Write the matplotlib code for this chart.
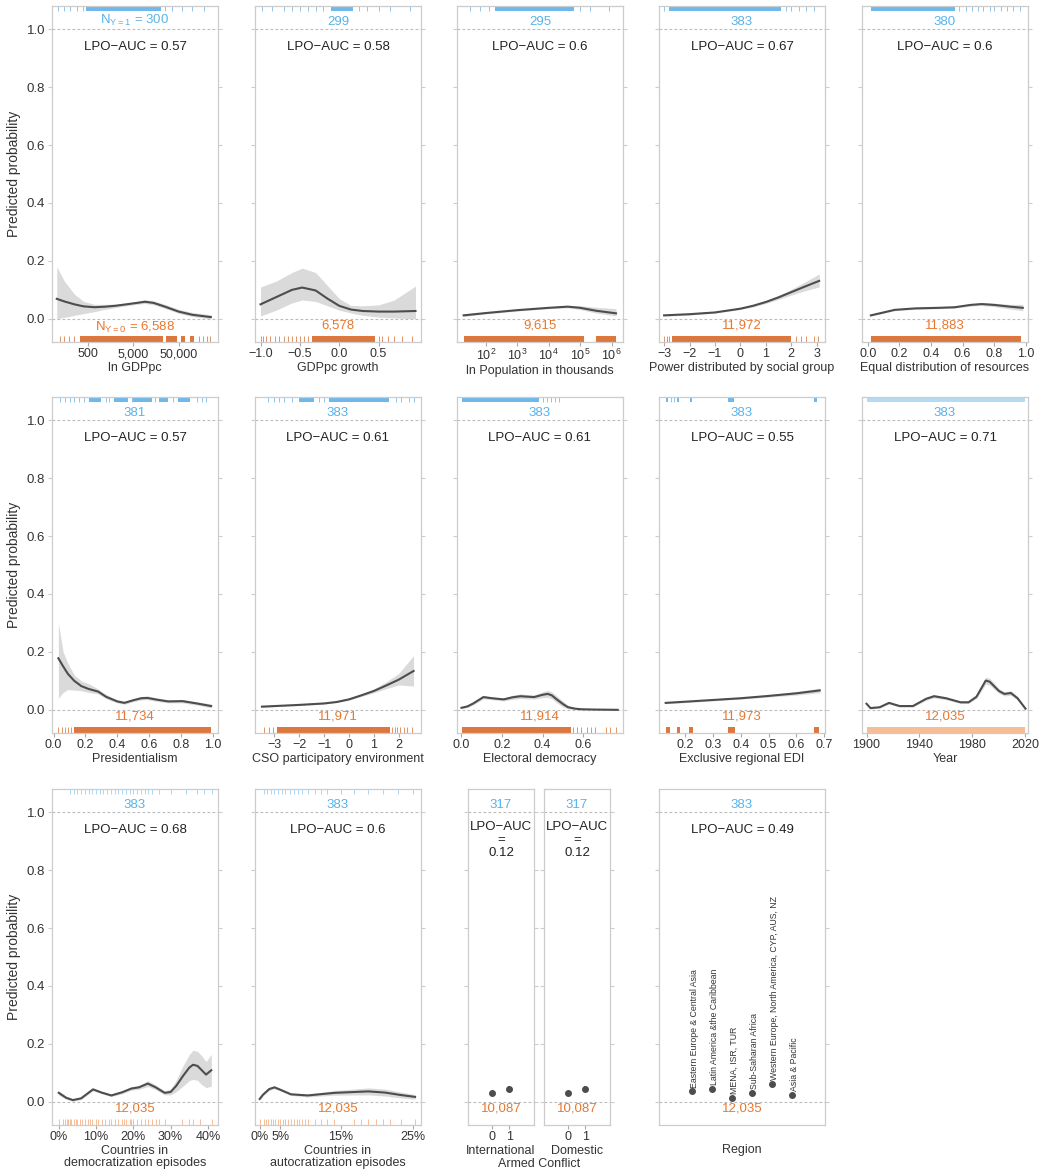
import numpy as np
import matplotlib
matplotlib.use('Agg')
import matplotlib.pyplot as plt
import matplotlib.transforms as mtrans

plt.rcParams['font.family'] = ['Liberation Sans', 'DejaVu Sans']

# ---------------- data ----------------
# row 1
gdp_x = [102, 150, 250, 400, 700, 1200, 2000, 3500, 6000, 9000, 14000, 25000, 50000, 100000, 257000]
gdp_y = [0.069, 0.060, 0.050, 0.043, 0.040, 0.042, 0.045, 0.050, 0.055, 0.059, 0.055, 0.042, 0.025, 0.014, 0.006]
gdp_lo = [0.0, 0.005, 0.012, 0.018, 0.025, 0.033, 0.039, 0.045, 0.050, 0.053, 0.049, 0.036, 0.019, 0.008, 0.0]
gdp_hi = [0.180, 0.130, 0.085, 0.060, 0.050, 0.050, 0.051, 0.055, 0.060, 0.066, 0.062, 0.050, 0.033, 0.022, 0.014]
gdp_rug1_span = [(450, 20000)]
gdp_rug1_ticks = [110, 150, 200, 280, 380, 25000, 35000, 60000, 100000, 180000]
gdp_rug0_span = [(330, 23000), (26000, 45000), (55000, 70000), (90000, 110000)]
gdp_rug0_ticks = [120, 150, 190, 240, 140000, 170000, 210000, 250000]

gro_x = [-1.0, -0.8, -0.6, -0.47, -0.3, -0.15, 0.0, 0.15, 0.3, 0.5, 0.7, 0.97]
gro_y = [0.050, 0.075, 0.100, 0.108, 0.098, 0.070, 0.045, 0.032, 0.027, 0.025, 0.025, 0.027]
gro_lo = [0.010, 0.030, 0.055, 0.065, 0.060, 0.045, 0.030, 0.020, 0.012, 0.006, 0.003, 0.0]
gro_hi = [0.110, 0.130, 0.160, 0.175, 0.160, 0.115, 0.070, 0.046, 0.045, 0.048, 0.065, 0.113]
gro_rug1_span = [(-0.1, 0.18)]
gro_rug1_ticks = [-0.98, -0.85, -0.7, -0.6, -0.5, -0.4, -0.3, -0.2, 0.25, 0.35, 0.5, 0.65, 0.9]
gro_rug0_span = [(-0.35, 0.45)]
gro_rug0_ticks = [-1.0, -0.97, -0.93, -0.88, -0.82, -0.77, -0.7, -0.65, -0.6, -0.55, -0.5,
                  -0.45, -0.4, 0.5, 0.55, 0.62, 0.7, 0.8, 0.92]

pop_x = [19.5, 100, 1000, 10000, 40000, 100000, 316000, 1380000]
pop_y = [0.012, 0.020, 0.030, 0.038, 0.042, 0.038, 0.028, 0.019]
pop_lo = [0.008, 0.017, 0.027, 0.035, 0.038, 0.032, 0.020, 0.010]
pop_hi = [0.016, 0.023, 0.033, 0.041, 0.046, 0.045, 0.040, 0.035]
pop_rug1_span = [(200, 63000)]
pop_rug1_ticks = [32, 63, 126, 100000, 200000, 800000]
pop_rug0_span = [(19.5, 132000), (316000, 1380000)]
pop_rug0_ticks = []

pow_x = [-3, -2, -1, 0, 0.5, 1, 1.5, 2, 2.5, 3.1]
pow_y = [0.012, 0.016, 0.022, 0.035, 0.045, 0.058, 0.074, 0.092, 0.110, 0.131]
pow_lo = [0.009, 0.013, 0.020, 0.032, 0.041, 0.053, 0.067, 0.082, 0.096, 0.110]
pow_hi = [0.015, 0.019, 0.025, 0.038, 0.049, 0.063, 0.081, 0.102, 0.125, 0.155]
pow_rug1_span = [(-2.8, 1.6)]
pow_rug1_ticks = [-3.0, 1.8, 2.0, 2.3, 2.6, 2.9]
pow_rug0_span = [(-2.7, 2.0)]
pow_rug0_ticks = [-3.0, -2.9, -2.8, 2.2, 2.4, 2.6, 2.9, 3.05]

equ_x = [0.02, 0.1, 0.17, 0.3, 0.45, 0.55, 0.65, 0.72, 0.8, 0.9, 0.98]
equ_y = [0.012, 0.022, 0.031, 0.036, 0.038, 0.040, 0.048, 0.051, 0.048, 0.042, 0.038]
equ_lo = [0.009, 0.019, 0.028, 0.033, 0.035, 0.037, 0.044, 0.046, 0.042, 0.034, 0.028]
equ_hi = [0.015, 0.025, 0.034, 0.039, 0.041, 0.043, 0.052, 0.056, 0.054, 0.050, 0.050]
equ_rug1_span = [(0.02, 0.55)]
equ_rug1_ticks = [0.58, 0.62, 0.66, 0.7, 0.73, 0.77, 0.8, 0.84, 0.88, 0.92, 0.96]
equ_rug0_span = [(0.02, 0.97)]
equ_rug0_ticks = []

# row 2
pre_x = [0.03, 0.06, 0.09, 0.13, 0.174, 0.22, 0.28, 0.33, 0.4, 0.445, 0.5, 0.55, 0.59, 0.65, 0.72, 0.81, 0.9, 0.99]
pre_y = [0.178, 0.150, 0.124, 0.100, 0.082, 0.072, 0.063, 0.045, 0.029, 0.024, 0.033, 0.040, 0.041,
         0.035, 0.029, 0.030, 0.022, 0.013]
pre_lo = [0.040, 0.060, 0.070, 0.068, 0.066, 0.060, 0.055, 0.038, 0.024, 0.019, 0.028, 0.034, 0.035,
          0.029, 0.024, 0.024, 0.016, 0.007]
pre_hi = [0.300, 0.200, 0.160, 0.120, 0.100, 0.090, 0.072, 0.053, 0.035, 0.030, 0.038, 0.046, 0.048,
          0.041, 0.035, 0.036, 0.028, 0.020]
pre_rug1_span = [(0.22, 0.30), (0.38, 0.47), (0.50, 0.62), (0.66, 0.72), (0.78, 0.86)]
pre_rug1_ticks = [0.04, 0.07, 0.10, 0.13, 0.16, 0.19, 0.33, 0.35, 0.49, 0.64, 0.75, 0.90, 0.93, 0.96]
pre_rug0_span = [(0.13, 0.99)]
pre_rug0_ticks = [0.03, 0.05, 0.07, 0.09, 0.11]

cso_x = [-3.5, -3, -2, -1, -0.5, 0, 0.5, 1, 1.5, 2, 2.6]
cso_y = [0.011, 0.013, 0.017, 0.022, 0.027, 0.036, 0.050, 0.065, 0.084, 0.104, 0.134]
cso_lo = [0.008, 0.011, 0.015, 0.020, 0.025, 0.033, 0.046, 0.059, 0.073, 0.086, 0.082]
cso_hi = [0.014, 0.015, 0.019, 0.024, 0.030, 0.040, 0.055, 0.072, 0.097, 0.125, 0.187]
cso_rug1_span = [(-2.0, -1.4), (-0.8, 1.6)]
cso_rug1_ticks = [-3.25, -3.0, -2.8, -2.6, -2.3, -1.2, -1.0, 1.9, 2.1, 2.4, 2.6]
cso_rug0_span = [(-2.9, 1.65)]
cso_rug0_ticks = [-3.4, -3.2, -3.05, 1.75, 1.85, 1.95, 2.05, 2.2, 2.35, 2.55]

ele_x = [0.0, 0.03, 0.058, 0.108, 0.15, 0.208, 0.25, 0.29, 0.358, 0.4, 0.425, 0.445, 0.466, 0.5,
         0.525, 0.56, 0.59, 0.65, 0.77]
ele_y = [0.007, 0.012, 0.022, 0.044, 0.040, 0.036, 0.043, 0.047, 0.044, 0.052, 0.055, 0.050, 0.038,
         0.020, 0.009, 0.004, 0.002, 0.001, 0.0]
ele_w = [0.003, 0.004, 0.005, 0.006, 0.005, 0.005, 0.007, 0.008, 0.007, 0.010, 0.012, 0.012, 0.012,
         0.010, 0.006, 0.003, 0.002, 0.001, 0.001]
ele_rug1_span = [(0.005, 0.38)]
ele_rug1_ticks = [0.40, 0.42, 0.44, 0.46, 0.48]
ele_rug0_span = [(0.005, 0.54)]
ele_rug0_ticks = [0.55, 0.57, 0.59, 0.62, 0.64, 0.66, 0.71, 0.73, 0.76]

edi_x = [0.13, 0.2, 0.3, 0.4, 0.5, 0.6, 0.684]
edi_y = [0.024, 0.028, 0.034, 0.040, 0.048, 0.057, 0.067]
edi_w = [0.003, 0.003, 0.003, 0.003, 0.004, 0.006, 0.008]
edi_rug1_span = [(0.13, 0.14), (0.172, 0.178), (0.218, 0.226), (0.355, 0.375), (0.665, 0.675)]
edi_rug1_ticks = [0.15, 0.16]
edi_rug0_span = [(0.13, 0.145), (0.172, 0.18), (0.215, 0.228), (0.355, 0.378), (0.662, 0.68)]
edi_rug0_ticks = []

yr_x = [1900, 1903, 1910, 1917, 1925, 1935, 1945, 1951, 1960, 1971, 1977, 1983, 1990, 1993, 2000,
        2004, 2009, 2014, 2020]
yr_y = [0.021, 0.006, 0.009, 0.024, 0.013, 0.013, 0.038, 0.047, 0.040, 0.026, 0.026, 0.045, 0.101,
        0.097, 0.065, 0.055, 0.058, 0.040, 0.004]
yr_w = [0.004, 0.003, 0.003, 0.004, 0.003, 0.003, 0.005, 0.006, 0.005, 0.004, 0.004, 0.006, 0.012,
        0.012, 0.008, 0.007, 0.008, 0.006, 0.003]
yr_rug1_span = [(1900, 2020)]
yr_rug0_span = [(1900, 2020)]

# row 3
dem_x = [0.0, 0.02, 0.038, 0.06, 0.092, 0.115, 0.141, 0.17, 0.195, 0.215, 0.239, 0.26, 0.284, 0.3,
         0.315, 0.333, 0.35, 0.36, 0.372, 0.382, 0.395, 0.409]
dem_y = [0.031, 0.014, 0.006, 0.012, 0.043, 0.032, 0.022, 0.033, 0.046, 0.050, 0.063, 0.050, 0.031,
         0.034, 0.055, 0.089, 0.118, 0.128, 0.124, 0.111, 0.094, 0.109]
dem_w = [0.008, 0.005, 0.004, 0.004, 0.005, 0.004, 0.004, 0.005, 0.006, 0.007, 0.010, 0.008, 0.007,
         0.010, 0.020, 0.035, 0.045, 0.050, 0.050, 0.050, 0.045, 0.055]
dem_rug1_ticks = [0.03, 0.04, 0.05, 0.06, 0.07, 0.08, 0.09, 0.10, 0.11, 0.12, 0.13, 0.14, 0.15, 0.16,
                  0.17, 0.18, 0.19, 0.20, 0.21, 0.22, 0.23, 0.24, 0.25, 0.27, 0.30, 0.34, 0.37, 0.39, 0.41]
dem_rug0_ticks = [0.0, 0.012, 0.018, 0.022, 0.026, 0.03, 0.034, 0.04, 0.045, 0.05, 0.056, 0.062, 0.07,
                  0.078, 0.085, 0.09, 0.1, 0.105, 0.115, 0.125, 0.135, 0.14, 0.15, 0.16, 0.17, 0.175,
                  0.18, 0.19, 0.195, 0.2, 0.21, 0.22, 0.23, 0.24, 0.25, 0.26, 0.27, 0.285, 0.33, 0.35,
                  0.36, 0.38, 0.41]

aut_x = [0.0, 0.012, 0.027, 0.0385, 0.05, 0.07, 0.099, 0.141, 0.19, 0.213, 0.233, 0.253]
aut_y = [0.010, 0.025, 0.044, 0.050, 0.042, 0.026, 0.022, 0.031, 0.036, 0.032, 0.024, 0.017]
aut_w = [0.004, 0.004, 0.005, 0.005, 0.004, 0.004, 0.005, 0.008, 0.012, 0.012, 0.010, 0.008]
aut_rug1_ticks = [0.015, 0.022, 0.03, 0.038, 0.045, 0.053, 0.06, 0.068, 0.075, 0.083, 0.09, 0.1, 0.11,
                  0.12, 0.13, 0.15, 0.17, 0.19, 0.21, 0.23, 0.25]
aut_rug0_ticks = [0.0, 0.015, 0.02, 0.025, 0.03, 0.035, 0.04, 0.045, 0.05, 0.055, 0.06, 0.065, 0.07,
                  0.075, 0.08, 0.085, 0.09, 0.095, 0.1, 0.11, 0.12, 0.13, 0.14, 0.17, 0.18,
                  0.19, 0.2, 0.21, 0.22, 0.235, 0.253]

conf_x = [0, 1]
intl_y = [0.031, 0.046]
intl_err = [0.003, 0.007]
dom_y = [0.031, 0.046]
dom_err = [0.003, 0.007]

regions = ['Eastern Europe & Central Asia', 'Latin America &the Caribbean', 'MENA, ISR, TUR',
           'Sub-Saharan Africa', 'Western Europe, North America, CYP, AUS, NZ', 'Asia & Pacific']
region_y = [0.037, 0.045, 0.014, 0.031, 0.063, 0.025]
region_err = [0.003, 0.003, 0.003, 0.003, 0.004, 0.003]

# ---------------- drawing ----------------
W, H = 1042, 1173
fig = plt.figure(figsize=(W / 100, H / 100), dpi=100)

BLUE_TXT = '#5ab3e8'
ORANGE_TXT = '#e8772e'
BLUE_RUG = '#4aa6e6'
ORANGE_RUG = '#d4560e'
LINE = '#4d4d4d'
BAND = '#dadada'
SPINE = '#cccccc'
TXT = '#333333'
FS = 9


def make_ax(left, top, w, h=336):
    return fig.add_axes([left / W, 1 - (top + h) / H, w / W, h / H])


def style(ax, first):
    ax.set_ylim(-0.08, 1.08)
    for s in ax.spines.values():
        s.set_color(SPINE)
        s.set_linewidth(0.9)
    ax.set_yticks([0, 0.2, 0.4, 0.6, 0.8, 1.0])
    ax.tick_params(axis='y', left=True, right=True, length=3, color='#cccccc',
                   labelsize=FS + 0.5, labelcolor=TXT, pad=2)
    ax.tick_params(axis='x', length=3, color='#aaaaaa', labelsize=FS, labelcolor=TXT, pad=1.5)
    ax.tick_params(axis='x', which='minor', bottom=False)
    if first:
        ax.set_yticklabels(['0.0', '0.2', '0.4', '0.6', '0.8', '1.0'])
        ax.set_ylabel('Predicted probability', fontsize=FS + 1, color=TXT, labelpad=4)
    else:
        ax.set_yticklabels([])
    for yy in (0, 1):
        ax.axhline(yy, color='#bbbbbb', lw=0.8, ls=(0, (2.5, 2)), zorder=1)


def rug(ax, spans, ticks, top, color, alpha=0.8):
    y0, y1 = (0.984, 1.0) if top else (0.0, 0.017)
    for a, b in spans:
        ax.axvspan(a, b, ymin=y0, ymax=y1, color=color, alpha=alpha, lw=0)
    if len(ticks):
        ax.vlines(ticks, y0, y1, transform=ax.get_xaxis_transform(), color=color,
                  alpha=alpha * 0.8, lw=0.7)


def labels(ax, n1, n0, auc, auc_y=0.94):
    tr = mtrans.blended_transform_factory(ax.transAxes, ax.transData)
    ax.text(0.5, 1.004, n1, color=BLUE_TXT, ha='center', va='bottom', fontsize=FS + 0.5, transform=tr)
    ax.text(0.5, -0.004, n0, color=ORANGE_TXT, ha='center', va='top', fontsize=FS + 0.5, transform=tr)
    ax.text(0.5, auc_y, auc, color='#222222', ha='center', va='center', fontsize=FS + 0.5,
            transform=tr, linespacing=1.1)


def curve(ax, x, y, lo, hi):
    ax.fill_between(x, lo, hi, color=BAND, lw=0, zorder=2)
    ax.plot(x, y, color=LINE, lw=1.5, zorder=3)


def band(y, w):
    return [a - b for a, b in zip(y, w)], [a + b for a, b in zip(y, w)]


def xlab(ax, text, pad=1):
    ax.set_xlabel(text, fontsize=FS, color=TXT, labelpad=pad, linespacing=1.05)


lefts = [52, 255, 457, 659, 862]
tops = [6, 397, 789]
PW = 166

# row 1 -----------------------------------------------------------------
ax = make_ax(lefts[0], tops[0], PW)
ax.set_xscale('log')
style(ax, True)
curve(ax, gdp_x, gdp_y, gdp_lo, gdp_hi)
rug(ax, gdp_rug1_span, gdp_rug1_ticks, True, BLUE_RUG)
rug(ax, gdp_rug0_span, gdp_rug0_ticks, False, ORANGE_RUG)
ax.set_xlim(80, 370000)
ax.set_xticks([500, 5000, 50000])
ax.set_xticklabels(['500', '5,000', '50,000'])
labels(ax, r'$\mathregular{N_{Y=1}}$ = 300', r'$\mathregular{N_{Y=0}}$ = 6,588', 'LPO\u2212AUC = 0.57')
xlab(ax, 'ln GDPpc')

ax = make_ax(lefts[1], tops[0], PW)
style(ax, False)
curve(ax, gro_x, gro_y, gro_lo, gro_hi)
rug(ax, gro_rug1_span, gro_rug1_ticks, True, BLUE_RUG)
rug(ax, gro_rug0_span, gro_rug0_ticks, False, ORANGE_RUG)
ax.set_xlim(-1.07, 1.04)
ax.set_xticks([-1.0, -0.5, 0.0, 0.5])
ax.set_xticklabels(['\u22121.0', '\u22120.5', '0.0', '0.5'])
labels(ax, '299', '6,578', 'LPO\u2212AUC = 0.58')
xlab(ax, 'GDPpc growth')

ax = make_ax(lefts[2], tops[0], PW)
ax.set_xscale('log')
style(ax, False)
curve(ax, pop_x, pop_y, pop_lo, pop_hi)
rug(ax, pop_rug1_span, pop_rug1_ticks, True, BLUE_RUG)
rug(ax, pop_rug0_span, pop_rug0_ticks, False, ORANGE_RUG)
ax.set_xlim(12, 2.3e6)
ax.set_xticks([1e2, 1e3, 1e4, 1e5, 1e6])
ax.set_xticklabels([r'$\mathregular{10^{%d}}$' % k for k in range(2, 7)])
labels(ax, '295', '9,615', 'LPO\u2212AUC = 0.6')
xlab(ax, 'ln Population in thousands')

ax = make_ax(lefts[3], tops[0], PW)
style(ax, False)
curve(ax, pow_x, pow_y, pow_lo, pow_hi)
rug(ax, pow_rug1_span, pow_rug1_ticks, True, BLUE_RUG)
rug(ax, pow_rug0_span, pow_rug0_ticks, False, ORANGE_RUG)
ax.set_xlim(-3.2, 3.33)
ax.set_xticks([-3, -2, -1, 0, 1, 2, 3])
labels(ax, '383', '11,972', 'LPO\u2212AUC = 0.67')
xlab(ax, 'Power distributed by social group')

ax = make_ax(lefts[4], tops[0], PW)
style(ax, False)
curve(ax, equ_x, equ_y, equ_lo, equ_hi)
rug(ax, equ_rug1_span, equ_rug1_ticks, True, BLUE_RUG)
rug(ax, equ_rug0_span, equ_rug0_ticks, False, ORANGE_RUG)
ax.set_xlim(-0.036, 1.013)
ax.set_xticks([0, 0.2, 0.4, 0.6, 0.8, 1.0])
ax.set_xticklabels(['0.0', '0.2', '0.4', '0.6', '0.8', '1.0'])
labels(ax, '380', '11,883', 'LPO\u2212AUC = 0.6')
xlab(ax, 'Equal distribution of resources')

# row 2 -----------------------------------------------------------------
ax = make_ax(lefts[0], tops[1], PW)
style(ax, True)
curve(ax, pre_x, pre_y, pre_lo, pre_hi)
rug(ax, pre_rug1_span, pre_rug1_ticks, True, BLUE_RUG)
rug(ax, pre_rug0_span, pre_rug0_ticks, False, ORANGE_RUG)
ax.set_xlim(-0.01, 1.033)
ax.set_xticks([0, 0.2, 0.4, 0.6, 0.8, 1.0])
ax.set_xticklabels(['0.0', '0.2', '0.4', '0.6', '0.8', '1.0'])
labels(ax, '381', '11,734', 'LPO\u2212AUC = 0.57')
xlab(ax, 'Presidentialism')

ax = make_ax(lefts[1], tops[1], PW)
style(ax, False)
curve(ax, cso_x, cso_y, cso_lo, cso_hi)
rug(ax, cso_rug1_span, cso_rug1_ticks, True, BLUE_RUG)
rug(ax, cso_rug0_span, cso_rug0_ticks, False, ORANGE_RUG)
ax.set_xlim(-3.78, 2.9)
ax.set_xticks([-3, -2, -1, 0, 1, 2])
labels(ax, '383', '11,971', 'LPO\u2212AUC = 0.61')
xlab(ax, 'CSO participatory environment')

ax = make_ax(lefts[2], tops[1], PW)
style(ax, False)
lo, hi = band(ele_y, ele_w)
curve(ax, ele_x, ele_y, lo, hi)
rug(ax, ele_rug1_span, ele_rug1_ticks, True, BLUE_RUG)
rug(ax, ele_rug0_span, ele_rug0_ticks, False, ORANGE_RUG)
ax.set_xlim(-0.022, 0.796)
ax.set_xticks([0, 0.2, 0.4, 0.6])
ax.set_xticklabels(['0.0', '0.2', '0.4', '0.6'])
labels(ax, '383', '11,914', 'LPO\u2212AUC = 0.61')
xlab(ax, 'Electoral democracy')

ax = make_ax(lefts[3], tops[1], PW)
style(ax, False)
lo, hi = band(edi_y, edi_w)
curve(ax, edi_x, edi_y, lo, hi)
rug(ax, edi_rug1_span, edi_rug1_ticks, True, BLUE_RUG)
rug(ax, edi_rug0_span, edi_rug0_ticks, False, ORANGE_RUG)
ax.set_xlim(0.106, 0.703)
ax.set_xticks([0.2, 0.3, 0.4, 0.5, 0.6, 0.7])
ax.set_xticklabels(['0.2', '0.3', '0.4', '0.5', '0.6', '0.7'])
labels(ax, '383', '11,973', 'LPO\u2212AUC = 0.55')
xlab(ax, 'Exclusive regional EDI')

ax = make_ax(lefts[4], tops[1], PW)
style(ax, False)
lo, hi = band(yr_y, yr_w)
curve(ax, yr_x, yr_y, lo, hi)
rug(ax, yr_rug1_span, [], True, '#b3dbf6', 1.0)
rug(ax, yr_rug0_span, [], False, '#f7bd96', 1.0)
ax.set_xlim(1896.6, 2021.9)
ax.set_xticks([1900, 1940, 1980, 2020])
labels(ax, '383', '12,035', 'LPO\u2212AUC = 0.71')
xlab(ax, 'Year')

# row 3 -----------------------------------------------------------------
ax = make_ax(lefts[0], tops[2], PW)
style(ax, True)
lo, hi = band(dem_y, dem_w)
curve(ax, dem_x, dem_y, lo, hi)
rug(ax, [], dem_rug1_ticks, True, '#7cc0ee', 0.8)
rug(ax, [], dem_rug0_ticks, False, '#f0995c', 0.8)
ax.set_xlim(-0.018, 0.427)
ax.set_xticks([0, 0.1, 0.2, 0.3, 0.4])
ax.set_xticklabels(['0%', '10%', '20%', '30%', '40%'])
labels(ax, '383', '12,035', 'LPO\u2212AUC = 0.68')
xlab(ax, 'Countries in\ndemocratization episodes')


def fwd(x):
    x = np.asarray(x, dtype=float)
    return np.sign(x) * np.abs(x) ** 1.25


def inv(t):
    t = np.asarray(t, dtype=float)
    return np.sign(t) * np.abs(t) ** (1 / 1.25)


ax = make_ax(lefts[1], tops[2], PW)
ax.set_xscale('function', functions=(fwd, inv))
style(ax, False)
lo, hi = band(aut_y, aut_w)
curve(ax, aut_x, aut_y, lo, hi)
rug(ax, [], aut_rug1_ticks, True, '#7cc0ee', 0.8)
rug(ax, [], aut_rug0_ticks, False, '#f0995c', 0.8)
ax.set_xlim(-0.0154, 0.2607)
ax.set_xticks([0, 0.05, 0.15, 0.25])
ax.set_xticklabels(['0%', '5%', '15%', '25%'])
labels(ax, '383', '12,035', 'LPO\u2212AUC = 0.6')
xlab(ax, 'Countries in\nautocratization episodes')

for left, name, yv, ev in [(468, 'International', intl_y, intl_err), (544, 'Domestic', dom_y, dom_err)]:
    ax = make_ax(left, tops[2], 66)
    style(ax, False)
    ax.errorbar(conf_x, yv, yerr=ev, fmt='o', ms=4, color=LINE, elinewidth=1.2, capsize=0, zorder=3)
    ax.set_xlim(-1.35, 2.4)
    ax.set_xticks(conf_x)
    labels(ax, '317', '10,087', 'LPO\u2212AUC\n=\n0.12', auc_y=0.905)
    xlab(ax, name)
fig.text(539 / W, 1 - 1164 / H, 'Armed Conflict', ha='center', va='center', fontsize=FS, color=TXT)

ax = make_ax(lefts[3], tops[2], PW)
style(ax, False)
rx = np.arange(1, len(regions) + 1)
ax.errorbar(rx, region_y, yerr=region_err, fmt='o', ms=4, color=LINE, elinewidth=1.2, capsize=0, zorder=3)
for xi, yi, name in zip(rx, region_y, regions):
    ax.text(xi + 0.12, yi + 0.012, name, rotation=90, ha='center', va='bottom', fontsize=6.3, color=TXT)
ax.set_xlim(-0.65, 7.65)
ax.set_xticks([])
labels(ax, '383', '12,035', 'LPO\u2212AUC = 0.49')
xlab(ax, 'Region', pad=14)

fig.savefig('out.png', dpi=100)
